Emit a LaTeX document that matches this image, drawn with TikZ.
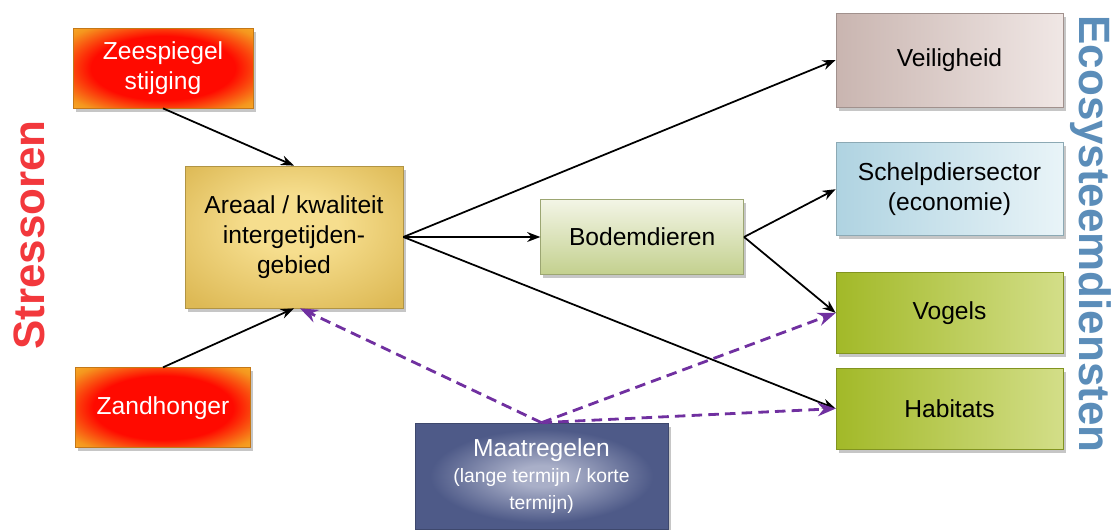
\documentclass[tikz,border=0pt]{standalone}
\usepackage{fontspec}
\setmainfont{Liberation Sans}
\usetikzlibrary{arrows.meta, positioning, shadows}

\definecolor{stressred}{HTML}{FF0A00}
\definecolor{stressorange}{HTML}{F5961E}
\definecolor{stressyellow}{HTML}{F8BE2E}
\definecolor{goldout}{HTML}{DDB955}
\definecolor{goldin}{HTML}{F6DE8E}
\definecolor{sageout}{HTML}{C3D08E}
\definecolor{sagein}{HTML}{F3F5E6}
\definecolor{roseout}{HTML}{C9B5B0}
\definecolor{rosein}{HTML}{F0E7E5}
\definecolor{skyout}{HTML}{AFD3E1}
\definecolor{skyin}{HTML}{E9F4F8}
\definecolor{limeout}{HTML}{A2B928}
\definecolor{limein}{HTML}{D3DE88}
\definecolor{slateout}{HTML}{4E5A88}
\definecolor{slatein}{HTML}{A9AFC8}
\definecolor{measurepurple}{HTML}{7030A0}
\definecolor{ecoblue}{HTML}{5B8DB9}
\definecolor{stresslabel}{HTML}{F2383C}

\pgfdeclareradialshading{stressglow}{\pgfpoint{0bp}{0bp}}{%
  color(0bp)=(stressred); color(20bp)=(stressred); color(32bp)=(stressorange);
  color(40bp)=(stressyellow); color(50bp)=(stressyellow)}
\pgfdeclareradialshading{slateglow}{\pgfpoint{0bp}{0bp}}{%
  color(0bp)=(slatein); color(5bp)=(slatein); color(22bp)=(slateout);
  color(50bp)=(slateout)}
\pgfdeclareradialshading{goldglow}{\pgfpoint{0bp}{6bp}}{%
  color(0bp)=(goldin); color(10bp)=(goldin); color(34bp)=(goldout);
  color(50bp)=(goldout)}

\begin{document}
\begin{tikzpicture}[
    node distance=0.7cm,
    box/.style={draw=black!30, minimum height=1.6cm, align=center, font=\fontsize{14}{17}\selectfont,
        drop shadow={shadow xshift=0.05cm, shadow yshift=-0.07cm, opacity=0.45}},
    stressor/.style={box, text=white, shading=stressglow, draw=stressorange!80!black},
    service/.style={box, minimum width=4.54cm},
    line/.style={-Stealth, line width=1pt},
    measure/.style={-Stealth, line width=1.6pt, measurepurple, dash pattern=on 6pt off 3.5pt},
    sidelabel/.style={font=\fontsize{25}{25}\selectfont\bfseries}
]
\useasboundingbox (0,0) rectangle (22.32,10.58);

% Stressors
\node[stressor, minimum width=3.6cm] (zee) at (3.26,9.22) {Zeespiegel\\stijging};
\node[stressor, minimum width=3.5cm, below=5.18cm of zee] (zand) {Zandhonger};

% Intertidal area and benthos
\node[box, minimum width=4.36cm, minimum height=2.84cm, draw=goldout!80!black,
      shading=goldglow] (areaal) at (5.88,5.84) {Areaal / kwaliteit\\intergetijden-\\gebied};
\node[box, minimum width=4.06cm, minimum height=1.5cm, draw=sageout!80!black,
      top color=sagein, bottom color=sageout, right=2.74cm of areaal] (bodem) {Bodemdieren};

% Measures
\node[box, minimum width=5.06cm, minimum height=2.12cm, text=white, draw=slateout!80!black,
      shading=slateglow] (maat) at (10.83,1.06)
      {Maatregelen\\[-2pt]{\fontsize{11}{13}\selectfont (lange termijn / korte}\\[-2pt]{\fontsize{11}{13}\selectfont termijn)}};

% Ecosystem services
\node[service, minimum height=1.88cm, draw=roseout!80!black,
      left color=roseout, right color=rosein] (veilig) at (18.99,9.38) {Veiligheid};
\node[service, minimum height=1.86cm, draw=skyout!80!black,
      left color=skyout, right color=skyin, below=0.7cm of veilig] (schelp) {Schelpdiersector\\(economie)};
\node[service, minimum height=1.62cm, draw=limeout!80!black,
      left color=limeout, right color=limein, below=0.72cm of schelp] (vogels) {Vogels};
\node[service, minimum height=1.62cm, draw=limeout!80!black,
      left color=limeout, right color=limein, below=0.28cm of vogels] (habitat) {Habitats};

% Side labels
\node[sidelabel, text=stresslabel, rotate=90] (stress) at (0.58,5.88) {Stressoren};
\node[sidelabel, text=ecoblue, rotate=-90] (eco) at (21.82,5.9) {Ecosysteemdiensten};

% Arrows
\draw[line] (zee.south) -- (areaal.north);
\draw[line] (zand.north) -- (areaal.south);
\draw[line] (areaal.east) -- (veilig.west);
\draw[line] (areaal.east) -- (bodem.west);
\draw[line] (areaal.east) -- (habitat.west);
\draw[line] (bodem.east) -- (schelp.west);
\draw[line] (bodem.east) -- (vogels.west);

% Measures arrows
\draw[measure] (maat.north) -- ([xshift=0.12cm]areaal.south);
\draw[measure] (maat.north) -- (vogels.west);
\draw[measure] (maat.north) -- (habitat.west);

\end{tikzpicture}
\end{document}
